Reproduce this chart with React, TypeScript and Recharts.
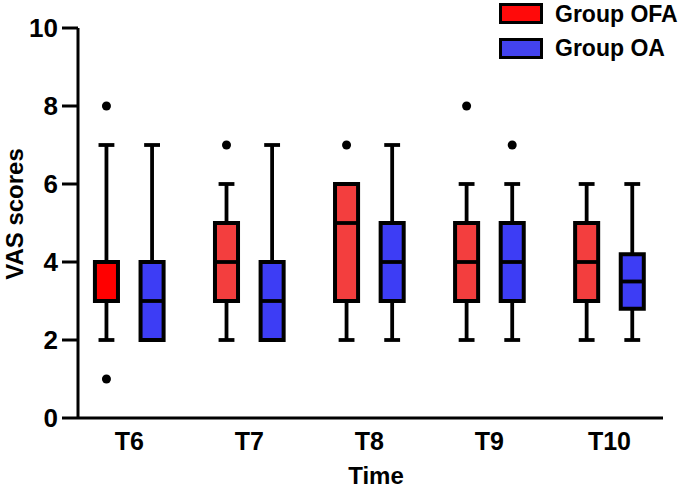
import React from 'react';
import {
  ComposedChart,
  XAxis,
  YAxis,
  Scatter,
  ReferenceArea,
  ReferenceLine,
} from 'recharts';

// ---- data ----
const CATEGORIES = ['T6', 'T7', 'T8', 'T9', 'T10'];
const Y_TICKS = [0, 2, 4, 6, 8, 10];
const GROUPS = ['Group OFA', 'Group OA'];

const OFA_MIN = [2, 2, 2, 2, 2];
const OFA_Q1 = [3, 3, 3, 3, 3];
const OFA_MEDIAN = [4, 4, 5, 4, 4];
const OFA_Q3 = [4, 5, 6, 5, 5];
const OFA_MAX = [7, 6, 6, 6, 6];
const OFA_OUTLIERS = [[8, 1], [7], [7], [8], []];

const OA_MIN = [2, 2, 2, 2, 2];
const OA_Q1 = [2, 2, 3, 3, 2.8];
const OA_MEDIAN = [3, 3, 4, 4, 3.5];
const OA_Q3 = [4, 4, 5, 5, 4.2];
const OA_MAX = [7, 7, 7, 6, 6];
const OA_OUTLIERS = [[], [], [], [7], []];

// ---- styles ----
const W = 685;
const H = 490;
const FONT = '"Liberation Sans", Arial, Helvetica, sans-serif';
const OFA_FILLS = ['#ff0000', '#f33e3e', '#f33e3e', '#f33e3e', '#f33e3e'];
const OA_FILL = '#3d3df5';
const LEGEND_FILLS = ['#ff0a0a', '#4343ee'];
const GROUP_OFFSET = 0.19;
const BOX_HW = 0.096;
const CAP_HW = 0.066;
const LW = 3.8;

type Box = { x: number; min: number; q1: number; med: number; q3: number; max: number; fill: string };

const boxes: Box[] = CATEGORIES.flatMap((_, i) => [
  { x: i - GROUP_OFFSET, min: OFA_MIN[i], q1: OFA_Q1[i], med: OFA_MEDIAN[i], q3: OFA_Q3[i], max: OFA_MAX[i], fill: OFA_FILLS[i] },
  { x: i + GROUP_OFFSET, min: OA_MIN[i], q1: OA_Q1[i], med: OA_MEDIAN[i], q3: OA_Q3[i], max: OA_MAX[i], fill: OA_FILL },
]);

const outliers = CATEGORIES.flatMap((_, i) => [
  ...OFA_OUTLIERS[i].map((v) => ({ x: i - GROUP_OFFSET, y: v })),
  ...OA_OUTLIERS[i].map((v) => ({ x: i + GROUP_OFFSET, y: v })),
]);

const X_TICKS = CATEGORIES.map((_, i) => i);

const textStyle = { fill: '#000', fontWeight: 700, fontFamily: FONT };

export default function App() {
  return (
    <div style={{ position: 'absolute', left: 0, top: 0, width: W, height: H, background: '#fff' }}>
      <ComposedChart width={W} height={H} margin={{ top: 28, right: 22, bottom: 0, left: 0 }} data={outliers}>
        <XAxis
          type="number"
          dataKey="x"
          domain={[-0.427, 4.446]}
          allowDataOverflow
          ticks={X_TICKS}
          interval={0}
          tickFormatter={(v: number) => CATEGORIES[v]}
          height={72}
          tickSize={0}
          tickMargin={14}
          tickLine={false}
          axisLine={{ stroke: '#000', strokeWidth: 3 }}
          tick={{ ...textStyle, fontSize: 25 }}
          label={{
            content: () => (
              <text x={376} y={484} textAnchor="middle" style={{ ...textStyle, fontSize: 24 }}>
                Time
              </text>
            ),
          }}
        />
        <YAxis
          type="number"
          dataKey="y"
          domain={[0, 10]}
          allowDataOverflow
          ticks={Y_TICKS}
          interval={0}
          width={78}
          tickSize={16}
          tickMargin={4}
          axisLine={{ stroke: '#000', strokeWidth: 3 }}
          tickLine={{ stroke: '#000', strokeWidth: 3 }}
          tick={{ ...textStyle, fontSize: 26 }}
          label={{
            content: () => (
              <text
                x={23}
                y={214}
                transform="rotate(-90 23 214)"
                textAnchor="middle"
                style={{ ...textStyle, fontSize: 24 }}
              >
                VAS scores
              </text>
            ),
          }}
        />
        {boxes.map((b, k) =>
          b.q1 > b.min ? (
            <ReferenceLine key={`lw${k}`} segment={[{ x: b.x, y: b.min }, { x: b.x, y: b.q1 }]} stroke="#000" strokeWidth={LW} />
          ) : null
        )}
        {boxes.map((b, k) =>
          b.q1 > b.min ? (
            <ReferenceLine key={`lc${k}`} segment={[{ x: b.x - CAP_HW, y: b.min }, { x: b.x + CAP_HW, y: b.min }]} stroke="#000" strokeWidth={LW} />
          ) : null
        )}
        {boxes.map((b, k) =>
          b.max > b.q3 ? (
            <ReferenceLine key={`uw${k}`} segment={[{ x: b.x, y: b.q3 }, { x: b.x, y: b.max }]} stroke="#000" strokeWidth={LW} />
          ) : null
        )}
        {boxes.map((b, k) =>
          b.max > b.q3 ? (
            <ReferenceLine key={`uc${k}`} segment={[{ x: b.x - CAP_HW, y: b.max }, { x: b.x + CAP_HW, y: b.max }]} stroke="#000" strokeWidth={LW} />
          ) : null
        )}
        {boxes.map((b, k) => (
          <ReferenceArea
            key={`box${k}`}
            x1={b.x - BOX_HW}
            x2={b.x + BOX_HW}
            y1={b.q1}
            y2={b.q3}
            fill={b.fill}
            fillOpacity={1}
            stroke="#000"
            strokeWidth={4}
            strokeOpacity={1}
          />
        ))}
        {boxes.map((b, k) => (
          <ReferenceLine key={`med${k}`} segment={[{ x: b.x - BOX_HW, y: b.med }, { x: b.x + BOX_HW, y: b.med }]} stroke="#000" strokeWidth={LW} />
        ))}
        <Scatter
          data={outliers}
          dataKey="y"
          isAnimationActive={false}
          shape={(p: any) => <circle cx={p.cx} cy={p.cy} r={4.5} fill="#000" />}
        />
      </ComposedChart>
      {GROUPS.map((g, i) => (
        <div key={g}>
          <div
            style={{
              position: 'absolute',
              left: 499,
              top: i === 0 ? 3 : 38,
              width: 44,
              height: 21,
              boxSizing: 'border-box',
              border: '3px solid #000',
              background: LEGEND_FILLS[i],
            }}
          />
          <div
            style={{
              position: 'absolute',
              left: 555,
              top: i === 0 ? 1 : 35,
              height: 26,
              lineHeight: '26px',
              fontFamily: FONT,
              fontWeight: 700,
              fontSize: 23,
              color: '#000',
              whiteSpace: 'nowrap',
            }}
          >
            {g}
          </div>
        </div>
      ))}
    </div>
  );
}
